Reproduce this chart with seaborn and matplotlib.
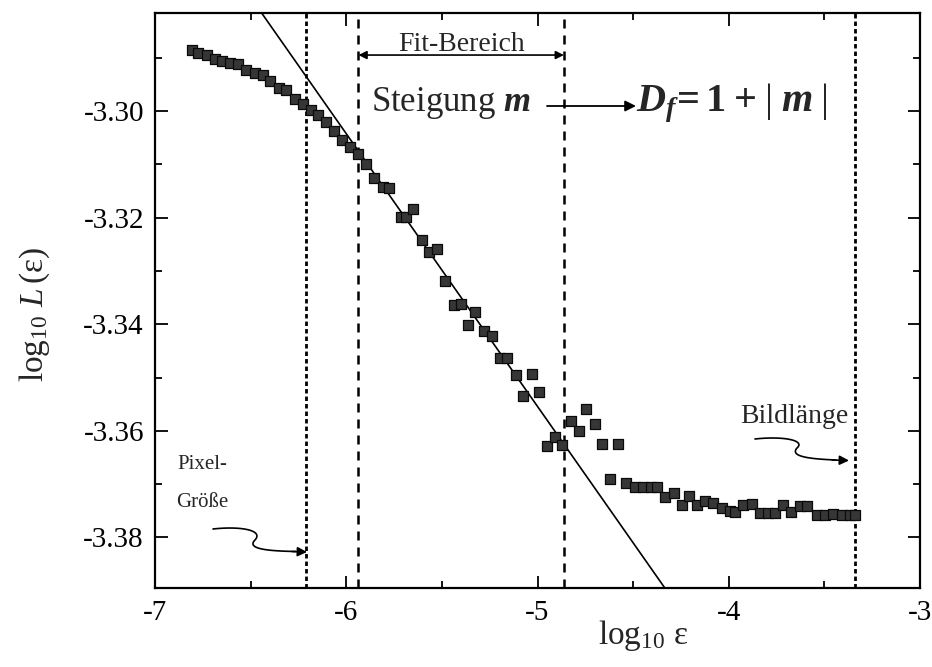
import numpy as np
import matplotlib
matplotlib.use("Agg")
import matplotlib.pyplot as plt
import seaborn as sns
from matplotlib.ticker import MultipleLocator, FormatStrFormatter

# ---------------- data ----------------
log_eps = [-6.809, -6.776, -6.730, -6.687, -6.652, -6.609, -6.566, -6.522, -6.479, -6.435,
           -6.397, -6.352, -6.313, -6.270, -6.227, -6.186, -6.148, -6.105, -6.065, -6.021,
           -5.979, -5.936, -5.896, -5.856, -5.809, -5.774, -5.713, -5.687, -5.649, -5.606,
           -5.566, -5.523, -5.482, -5.435, -5.401, -5.361, -5.326, -5.279, -5.239, -5.197,
           -5.157, -5.114, -5.076, -5.031, -4.992, -4.952, -4.909, -4.871, -4.827, -4.784,
           -4.744, -4.701, -4.662, -4.622, -4.580, -4.536, -4.492, -4.450, -4.408, -4.375,
           -4.331, -4.288, -4.246, -4.208, -4.167, -4.123, -4.080, -4.036, -3.992, -3.965,
           -3.923, -3.880, -3.836, -3.793, -3.756, -3.715, -3.674, -3.627, -3.593, -3.541,
           -3.497, -3.454, -3.410, -3.367, -3.341]
log_L = [-3.2886, -3.2891, -3.2895, -3.2903, -3.2906, -3.2909, -3.2912, -3.2923, -3.2928, -3.2932,
         -3.2943, -3.2956, -3.2961, -3.2978, -3.2987, -3.2998, -3.3008, -3.3020, -3.3037, -3.3054,
         -3.3067, -3.3080, -3.3099, -3.3126, -3.3143, -3.3145, -3.3199, -3.3199, -3.3184, -3.3242,
         -3.3264, -3.3258, -3.3318, -3.3364, -3.3363, -3.3402, -3.3378, -3.3412, -3.3423, -3.3464,
         -3.3463, -3.3496, -3.3535, -3.3493, -3.3528, -3.3628, -3.3611, -3.3626, -3.3581, -3.3601,
         -3.3560, -3.3588, -3.3625, -3.3691, -3.3625, -3.3698, -3.3705, -3.3705, -3.3706, -3.3706,
         -3.3724, -3.3716, -3.3740, -3.3722, -3.3739, -3.3731, -3.3736, -3.3745, -3.3750, -3.3752,
         -3.3739, -3.3737, -3.3755, -3.3755, -3.3755, -3.3739, -3.3752, -3.3742, -3.3742, -3.3758,
         -3.3758, -3.3757, -3.3758, -3.3758, -3.3758]

fit_x = [-6.6, -4.2]
fit_y = [-3.27354, -3.39637]

x_pixel = -6.209      # Pixel-Größe
x_fit_lo = -5.936     # Fit-Bereich start
x_fit_hi = -4.862     # Fit-Bereich end
x_bild = -3.341       # Bildlänge

xticks = [-7, -6, -5, -4, -3]
yticks = [-3.30, -3.32, -3.34, -3.36, -3.38]

# ---------------- style ----------------
sns.set_theme(style="ticks")
plt.rcParams["font.family"] = ["Liberation Serif", "DejaVu Serif"]
plt.rcParams["mathtext.fontset"] = "custom"
plt.rcParams["mathtext.rm"] = "Liberation Serif"
plt.rcParams["mathtext.it"] = "Liberation Serif:italic"
plt.rcParams["mathtext.bf"] = "Liberation Serif:bold"
plt.rcParams["mathtext.bfit"] = "Liberation Serif:italic:bold"
plt.rcParams["axes.unicode_minus"] = False

W, H = 932, 667
fig = plt.figure(figsize=(W / 100, H / 100), dpi=100)
ax = fig.add_axes([155 / W, 1 - 588 / H, 765 / W, 575 / H])

def fp(px, py):
    """figure-pixel (top-left origin) -> figure fraction, for annotation artwork"""
    return (px / W, 1 - py / H)

# fit line
sns.lineplot(x=fit_x, y=fit_y, ax=ax, color="black", lw=1.2, zorder=2)

# data points
sns.scatterplot(x=log_eps, y=log_L, ax=ax, marker="s", s=50, color="#363636",
                edgecolor="#0a0a0a", linewidth=0.9, zorder=3)

# vertical markers
ax.axvline(x_pixel, color="black", lw=2.0, dashes=(1.6, 1.1), zorder=1)
ax.axvline(x_bild, color="black", lw=2.0, dashes=(1.6, 1.1), zorder=1)
ax.axvline(x_fit_lo, color="black", lw=1.8, dashes=(3.6, 2.8), zorder=1)
ax.axvline(x_fit_hi, color="black", lw=1.8, dashes=(3.6, 2.8), zorder=1)

ax.set_xlim(-7, -3)
ax.set_ylim(-3.3895, -3.2816)
ax.set_xticks(xticks)
ax.set_yticks(yticks)
ax.xaxis.set_minor_locator(MultipleLocator(0.5))
ax.yaxis.set_minor_locator(MultipleLocator(0.01))
ax.yaxis.set_major_formatter(FormatStrFormatter("%.2f"))
ax.xaxis.set_major_formatter(FormatStrFormatter("%d"))
ax.tick_params(which="both", direction="in", top=True, right=True,
               colors="black", labelsize=21, width=1.3)
ax.tick_params(which="major", length=9)
ax.tick_params(which="minor", length=5)
ax.tick_params(axis="x", pad=9)
ax.tick_params(axis="y", pad=8)
for s in ax.spines.values():
    s.set_linewidth(1.6)
    s.set_color("black")

ax.set_xlabel(r"log$_{10}$ ε", fontsize=24)
ax.xaxis.set_label_coords(0.638, -0.052)
ax.set_ylabel(r"log$_{10}$ $L\,$(ε)", fontsize=24)
ax.yaxis.set_label_coords(-0.135, 0.475)

# ---------------- annotations ----------------
# Fit-Bereich double arrow
ax.annotate("", xy=(x_fit_lo, -3.28949), xytext=(x_fit_hi, -3.28949),
            arrowprops=dict(arrowstyle="<|-|>", color="black", lw=1.2,
                            mutation_scale=12, shrinkA=0, shrinkB=0))
ax.text((x_fit_lo + x_fit_hi) / 2, -3.2887, "Fit-Bereich", ha="center",
        va="baseline", fontsize=20)

# Steigung m  ->  D_f = 1 + |m|
ax.text(-5.868, -3.2999, r"Steigung $\mathbfit{m}$", ha="left", va="baseline", fontsize=25)
ax.annotate("", xy=fp(636, 106), xytext=fp(547, 106),
            xycoords="figure fraction", textcoords="figure fraction",
            arrowprops=dict(arrowstyle="-|>", color="black", lw=1.3,
                            mutation_scale=16, shrinkA=0, shrinkB=0))
ax.text(-4.486, -3.3001,
        r"$\mathbfit{D_f}\!\mathbf{=1}\;\mathbf{+}\;|\;\mathbfit{m}\;|$",
        ha="left", va="baseline", fontsize=29)

# Pixel-Größe
ax.text(-6.885, -3.3664, "Pixel-", ha="left", va="center", fontsize=15)
ax.text(-6.892, -3.3735, "Größe", ha="left", va="center", fontsize=15)

def bez(p0, p1, p2, p3, n=40):
    t = np.linspace(0, 1, n)[:, None]
    p0, p1, p2, p3 = map(np.asarray, (p0, p1, p2, p3))
    return (1 - t) ** 3 * p0 + 3 * (1 - t) ** 2 * t * p1 + 3 * (1 - t) * t ** 2 * p2 + t ** 3 * p3

def squiggle(segs, tip_from, tip_to):
    pts = np.vstack([bez(*s) for s in segs])
    fx = pts[:, 0] / W
    fy = 1 - pts[:, 1] / H
    ax.plot(fx, fy, transform=fig.transFigure, color="black", lw=1.2, clip_on=False)
    ax.annotate("", xy=fp(*tip_to), xytext=fp(*tip_from),
                xycoords="figure fraction", textcoords="figure fraction",
                arrowprops=dict(arrowstyle="-|>", color="black", lw=1.2,
                                mutation_scale=14, shrinkA=0, shrinkB=0))

squiggle([((213, 529), (240, 526), (264, 530), (255, 540)),
          ((255, 540), (246, 549), (268, 551), (296, 551.5))],
         (292, 551.5), (307, 552))

# Bildlänge
ax.text(-3.657, -3.3574, "Bildlänge", ha="center", va="center", fontsize=20)
squiggle([((755, 439), (782, 436), (806, 440), (797, 448)),
          ((797, 448), (789, 457), (812, 459), (836, 460)),],
         (832, 460), (849, 460.5))

fig.savefig("out.png", dpi=100)
